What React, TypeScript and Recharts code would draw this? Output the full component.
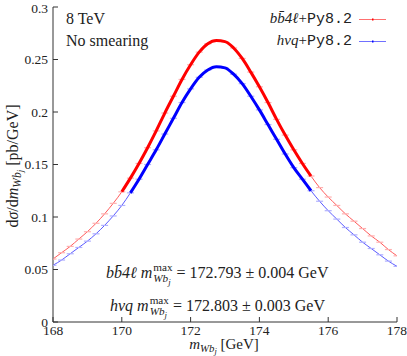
import React from 'react';
import { ComposedChart, Line, Scatter, XAxis, YAxis } from 'recharts';

// invariant mass bins (GeV)
const massPoints = [
  168, 168.25, 168.5, 168.75, 169, 169.25, 169.5, 169.75, 170, 170.25, 170.5,
  170.75, 171, 171.25, 171.5, 171.75, 172, 172.25, 172.5, 172.75, 173, 173.25,
  173.5, 173.75, 174, 174.25, 174.5, 174.75, 175, 175.25, 175.5, 175.75, 176,
  176.25, 176.5, 176.75, 177, 177.25, 177.5, 177.75, 178,
];

// dsigma/dm [pb/GeV]
const bb4lValues = [
  0.060, 0.066, 0.072, 0.079, 0.086, 0.094, 0.103, 0.113, 0.124, 0.137, 0.151,
  0.166, 0.182, 0.199, 0.215, 0.231, 0.245, 0.257, 0.265, 0.268, 0.267, 0.261,
  0.251, 0.238, 0.224, 0.209, 0.193, 0.178, 0.164, 0.151, 0.139, 0.128, 0.119,
  0.111, 0.103, 0.096, 0.089, 0.082, 0.076, 0.069, 0.063,
];

const hvqValues = [
  0.054, 0.059, 0.065, 0.071, 0.077, 0.084, 0.092, 0.101, 0.111, 0.123, 0.136,
  0.150, 0.164, 0.179, 0.194, 0.209, 0.222, 0.233, 0.240, 0.243, 0.242, 0.236,
  0.227, 0.215, 0.202, 0.188, 0.174, 0.160, 0.147, 0.136, 0.125, 0.115, 0.106,
  0.098, 0.090, 0.083, 0.076, 0.070, 0.064, 0.058, 0.053,
];

// fit ranges drawn as thick curves
const bb4lFitRange = [170.0, 175.5];
const hvqFitRange = [170.25, 175.5];

const xTicks = [168, 170, 172, 174, 176, 178];
const yTicks = [0, 0.05, 0.1, 0.15, 0.2, 0.25, 0.3];

const rows = massPoints.map((m, i) => ({
  m,
  bb4l: bb4lValues[i],
  hvq: hvqValues[i],
  bb4lFit: m >= bb4lFitRange[0] && m <= bb4lFitRange[1] ? bb4lValues[i] : null,
  hvqFit: m >= hvqFitRange[0] && m <= hvqFitRange[1] ? hvqValues[i] : null,
}));

const SERIF = "'Liberation Serif', 'Times New Roman', Times, serif";
const MONO = "'Liberation Mono', 'Courier New', monospace";
const FRAME = '#333';

// small horizontal error mark at each bin
const errTick = (color: string) => (props: any) => {
  const { cx, cy } = props;
  if (cx == null || cy == null) return <g />;
  return <line x1={cx - 3.5} x2={cx + 3.5} y1={cy} y2={cy} stroke={color} strokeWidth={1.2} />;
};

function MassSym({ withMax }: { withMax?: boolean }) {
  if (!withMax) {
    return (
      <span>
        <i>m</i>
        <span style={{ fontSize: '0.72em', verticalAlign: '-0.3em' }}>
          <i>Wb</i>
          <span style={{ fontSize: '0.78em', verticalAlign: '-0.25em' }}>
            <i>j</i>
          </span>
        </span>
      </span>
    );
  }
  return (
    <span>
      <i>m</i>
      <span
        style={{
          display: 'inline-flex',
          flexDirection: 'column',
          fontSize: '0.7em',
          lineHeight: 0.95,
          verticalAlign: '0.62em',
          marginLeft: 1,
        }}
      >
        <span>max</span>
        <span>
          <i>Wb</i>
          <span style={{ fontSize: '0.78em', verticalAlign: '-0.3em' }}>
            <i>j</i>
          </span>
        </span>
      </span>
    </span>
  );
}

const bbbar = 'bb\u03044\u2113';

export default function App() {
  const tickStyle = { fontFamily: SERIF, fontSize: 13.5, fill: '#222' };
  const textBase: React.CSSProperties = {
    position: 'absolute',
    fontFamily: SERIF,
    color: '#222',
    whiteSpace: 'nowrap',
    lineHeight: 1,
  };
  const fitZ: any = { zIndex: 900 };

  return (
    <div style={{ position: 'absolute', left: 0, top: 0, width: 407, height: 356, background: '#fff', fontFamily: SERIF }}>
      <ComposedChart width={407} height={356} data={rows} margin={{ top: 7, right: 10, bottom: 0, left: 0 }}>
        <XAxis
          dataKey="m"
          type="number"
          domain={[168, 178]}
          ticks={xTicks}
          allowDataOverflow
          height={34}
          stroke={FRAME}
          tickSize={-5}
          tickMargin={8}
          tick={tickStyle}
        />
        <XAxis
          xAxisId="top"
          orientation="top"
          dataKey="m"
          type="number"
          domain={[168, 178]}
          ticks={xTicks}
          allowDataOverflow
          height={0}
          stroke={FRAME}
          tickSize={-5}
          tick={false}
        />
        <YAxis
          type="number"
          domain={[0, 0.3]}
          ticks={yTicks}
          allowDataOverflow
          width={53}
          stroke={FRAME}
          tickSize={-5}
          tickMargin={10}
          tick={tickStyle}
          tickFormatter={(v: number) => String(v)}
        />
        <YAxis
          yAxisId="right"
          orientation="right"
          type="number"
          domain={[0, 0.3]}
          ticks={yTicks}
          allowDataOverflow
          width={0}
          stroke={FRAME}
          tickSize={-5}
          tick={false}
        />
        <Line type="monotone" dataKey="bb4l" stroke="#ff5a5a" strokeWidth={1} dot={false} isAnimationActive={false} />
        <Line type="monotone" dataKey="hvq" stroke="#5a5aff" strokeWidth={1} dot={false} isAnimationActive={false} />
        <Scatter dataKey="bb4l" shape={errTick('#ffb0b0')} isAnimationActive={false} />
        <Scatter dataKey="hvq" shape={errTick('#b0b0ff')} isAnimationActive={false} />
        <Line type="monotone" dataKey="bb4lFit" stroke="#ff0000" strokeWidth={3} dot={false} isAnimationActive={false} {...fitZ} />
        <Line type="monotone" dataKey="hvqFit" stroke="#0000ff" strokeWidth={3} dot={false} isAnimationActive={false} {...fitZ} />
      </ComposedChart>

      {/* top-left notes */}
      <div style={{ ...textBase, left: 66, top: 11, fontSize: 16 }}>8 TeV</div>
      <div style={{ ...textBase, left: 66, top: 33, fontSize: 16 }}>No smearing</div>

      {/* legend */}
      <div style={{ ...textBase, right: 55, top: 11, fontSize: 15 }}>
        <i>{bbbar}</i>+<span style={{ fontFamily: MONO }}>Py8.2</span>
      </div>
      <div style={{ ...textBase, right: 55, top: 33, fontSize: 15 }}>
        <i>hvq</i>+<span style={{ fontFamily: MONO }}>Py8.2</span>
      </div>
      <svg style={{ position: 'absolute', left: 0, top: 0 }} width={407} height={356}>
        <line x1={359} x2={386} y1={19.5} y2={19.5} stroke="#ff7070" strokeWidth={1} />
        <line x1={372} x2={373.5} y1={19.5} y2={19.5} stroke="#ff0000" strokeWidth={2} />
        <line x1={359} x2={386} y1={41.5} y2={41.5} stroke="#7070ff" strokeWidth={1} />
        <line x1={372} x2={373.5} y1={41.5} y2={41.5} stroke="#0000ff" strokeWidth={2} />
      </svg>

      {/* fitted peak positions */}
      <div style={{ ...textBase, left: 106, top: 262, fontSize: 16 }}>
        <i>{bbbar}</i> <MassSym withMax /> = 172.793 ± 0.004 GeV
      </div>
      <div style={{ ...textBase, left: 110, top: 295, fontSize: 16 }}>
        <i>hvq</i> <MassSym withMax /> = 172.803 ± 0.003 GeV
      </div>

      {/* axis titles */}
      <div style={{ ...textBase, left: 224, top: 346, fontSize: 15, transform: 'translate(-50%, -50%)' }}>
        <MassSym /> [GeV]
      </div>
      <div
        style={{
          ...textBase,
          left: 15,
          top: 166,
          fontSize: 16,
          transform: 'translate(-50%, -50%) rotate(-90deg)',
        }}
      >
        d<i>σ</i>/d<MassSym /> [pb/GeV]
      </div>
    </div>
  );
}
